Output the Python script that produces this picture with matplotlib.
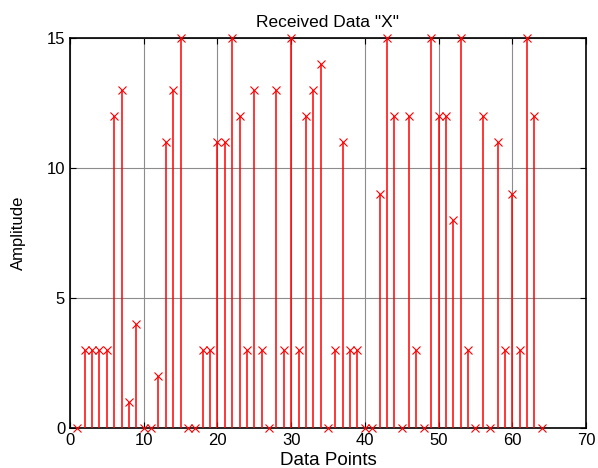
import numpy as np
import matplotlib
matplotlib.use("Agg")
import matplotlib.pyplot as plt

plt.rcParams['font.family'] = ['Liberation Sans', 'DejaVu Sans']

# received samples, index 1..64
points = np.arange(1, 65)
amplitude = [0, 3, 3, 3, 3, 12, 13, 1, 4, 0,
             0, 2, 11, 13, 15, 0, 0, 3, 3, 11,
             11, 15, 12, 3, 13, 3, 0, 13, 3, 15,
             3, 12, 13, 14, 0, 3, 11, 3, 3, 0,
             0, 9, 15, 12, 0, 12, 3, 0, 15, 12,
             12, 8, 15, 3, 0, 12, 0, 11, 3, 9,
             3, 15, 12, 0]
xticks = [0, 10, 20, 30, 40, 50, 60, 70]
yticks = [0, 5, 10, 15]

fig = plt.figure(figsize=(5.98, 4.68), dpi=100)
ax = fig.add_axes([70/598, 40/468, 516/598, 390/468])

ax.vlines(points, 0, amplitude, color='red', linewidth=1.1, zorder=3)
ax.plot(points, amplitude, linestyle='none', marker='x', color='red',
        markersize=6, markeredgewidth=0.8, zorder=4, clip_on=False)

ax.set_xlim(0, 70)
ax.set_ylim(0, 15)
ax.set_xticks(xticks)
ax.set_yticks(yticks)
ax.grid(True, color='#8c8c8c', linewidth=0.8, linestyle='-')
ax.set_axisbelow(True)
ax.tick_params(direction='in', top=True, right=True, length=4,
               labelsize=12, width=0.8)
for s in ax.spines.values():
    s.set_linewidth(1.2)

ax.set_title('Received Data "X"', fontsize=12.5, pad=8)
ax.set_xlabel('Data Points', fontsize=13.5, labelpad=3)
ax.set_ylabel('Amplitude', fontsize=12, labelpad=15)

fig.savefig('out.png', dpi=100)
